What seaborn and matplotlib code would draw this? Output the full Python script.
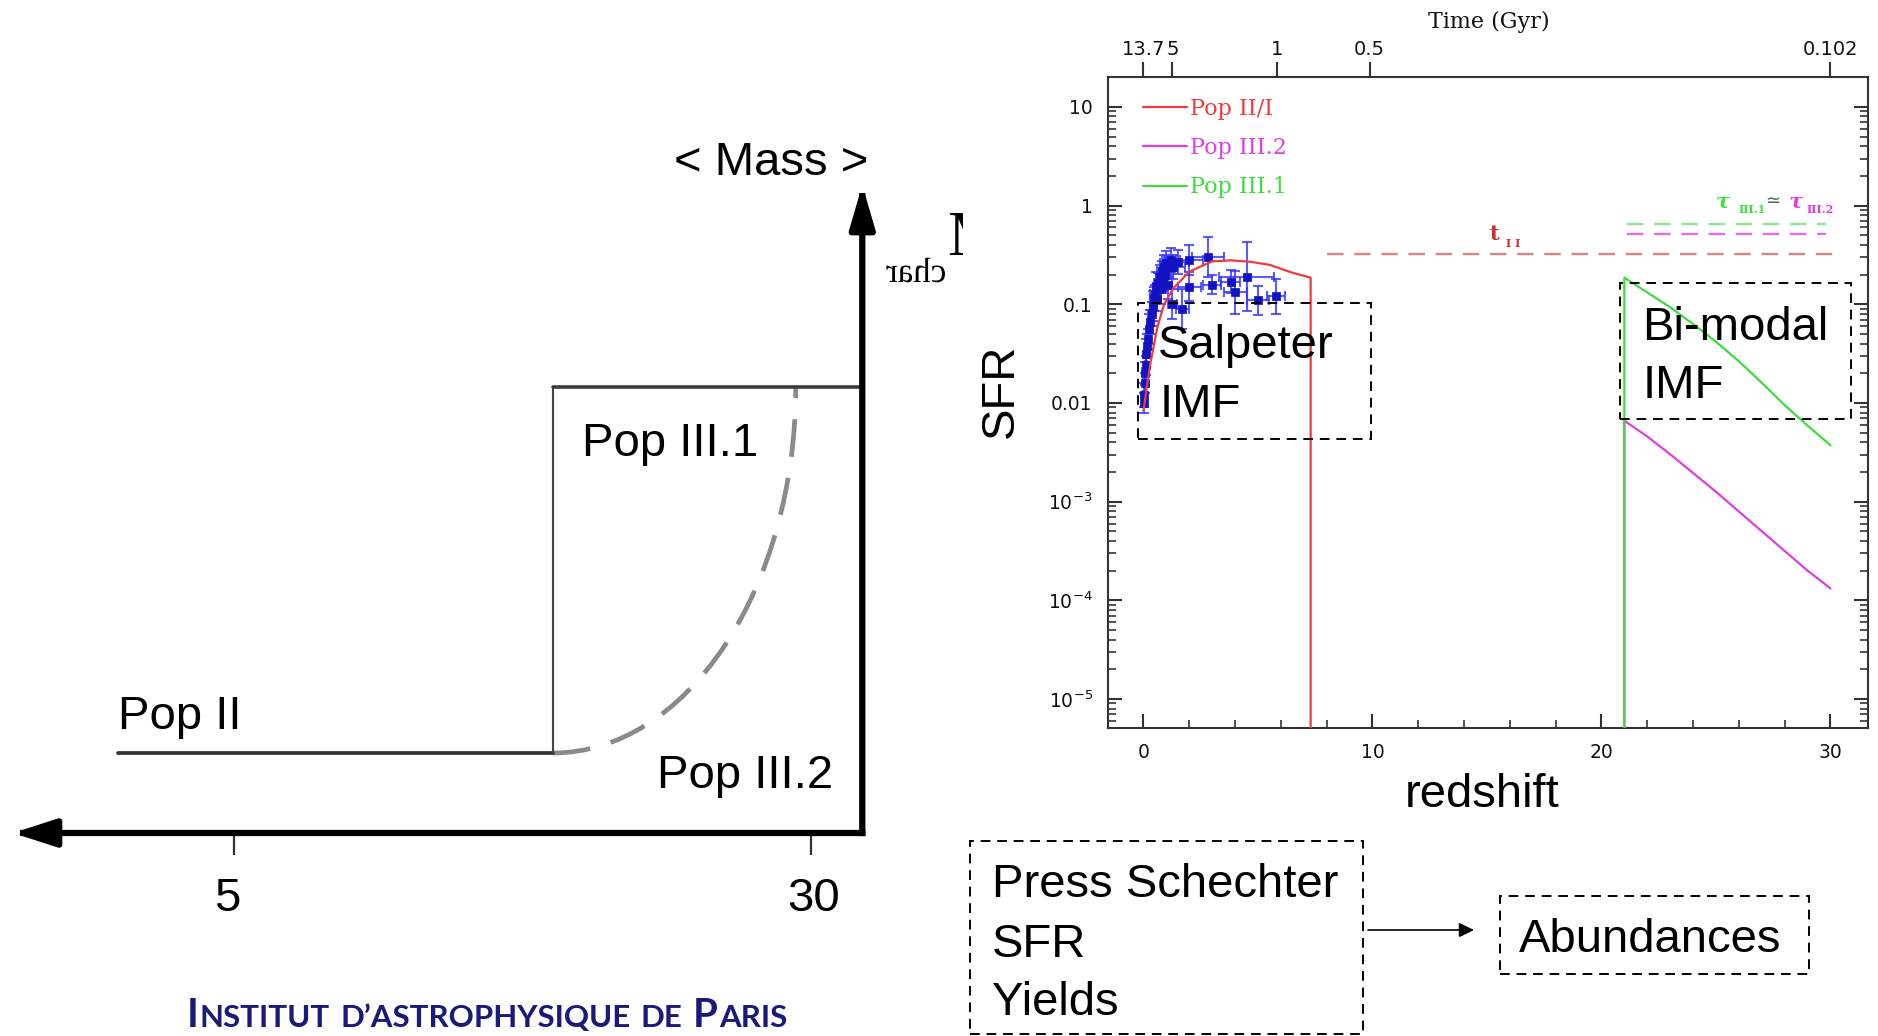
import numpy as np
import matplotlib
matplotlib.use("Agg")
import matplotlib.pyplot as plt
import seaborn as sns
from matplotlib.patches import Rectangle, Arc, FancyArrowPatch, PathPatch
from matplotlib.lines import Line2D
from matplotlib.textpath import TextPath
from matplotlib.font_manager import FontProperties
from matplotlib.transforms import Affine2D
from matplotlib.ticker import FixedLocator, LogLocator, NullFormatter, MultipleLocator, NullLocator

# ---------------- data: cosmic star formation rate ----------------
# Pop II/I model (redshift, SFR); the final point marks the cut-off
pop2_z = [0.0, 0.15, 0.3, 0.6, 0.9, 1.3, 2.0, 3.0, 3.8, 4.7, 5.5, 6.5, 7.3, 7.3]
pop2_sfr = [0.0083, 0.0148, 0.0251, 0.0575, 0.100, 0.145, 0.214, 0.272, 0.279,
            0.269, 0.251, 0.209, 0.186, 1e-7]

# Pop III.1 and Pop III.2 models (switched on at z ~ 21)
pop31_z = [21.0, 21.0, 22.0, 23.0, 24.0, 25.0, 26.0, 27.0, 28.0, 29.0, 30.0]
pop31_sfr = [1e-7, 0.186, 0.132, 0.0933, 0.0631, 0.0417, 0.0265, 0.0160, 0.00950,
             0.00590, 0.00372]
pop32_z = [21.0, 21.0, 22.0, 23.0, 24.0, 25.0, 26.0, 27.0, 28.0, 29.0, 30.0]
pop32_sfr = [1e-7, 0.00661, 0.00457, 0.00302, 0.00195, 0.00126, 0.000794, 0.000501,
             0.000316, 0.000200, 0.000132]

# characteristic timescales drawn as dashed levels
t2_z = [8.0, 30.1]
t2_level = 0.32
tau31_z = [21.1, 29.8]
tau31_level = 0.65
tau32_z = [21.1, 29.8]
tau32_level = 0.51

# observed SFR compilation: redshift, log10 SFR, half-widths
obs_z = [0.01, 0.03, 0.05, 0.07, 0.10, 0.12, 0.15, 0.20, 0.25, 0.30, 0.35, 0.40,
         0.45, 0.50, 0.55, 0.60, 0.65, 0.70, 0.75, 0.80, 0.85, 0.90, 0.95, 1.00,
         1.05, 1.10, 1.20, 1.25, 1.30, 1.50, 1.70, 2.00, 2.00, 2.80, 3.00, 3.80,
         4.00, 4.50, 5.00, 5.80]
obs_logsfr = [-2.00, -1.92, -1.80, -1.70, -1.62, -1.50, -1.42, -1.35, -1.25, -1.18,
              -1.10, -1.02, -0.95, -0.90, -0.82, -0.95, -0.78, -0.72, -0.85, -0.66,
              -0.75, -0.62, -0.70, -0.58, -0.80, -0.62, -0.55, -1.00, -0.62, -0.57,
              -1.05, -0.55, -0.82, -0.52, -0.80, -0.77, -0.88, -0.72, -0.96, -0.92]
obs_zerr = [0.02, 0.03, 0.05, 0.05, 0.05, 0.08, 0.10, 0.10, 0.10, 0.10, 0.15, 0.10,
            0.15, 0.20, 0.15, 0.10, 0.20, 0.15, 0.25, 0.20, 0.15, 0.20, 0.25, 0.30,
            0.20, 0.30, 0.40, 0.20, 0.50, 0.50, 0.30, 0.60, 0.50, 0.70, 0.40, 0.40,
            0.50, 1.20, 0.50, 0.40]
obs_logerr = [0.10, 0.12, 0.10, 0.12, 0.10, 0.15, 0.12, 0.10, 0.15, 0.12, 0.12, 0.15,
              0.12, 0.10, 0.15, 0.12, 0.10, 0.12, 0.15, 0.10, 0.12, 0.12, 0.10, 0.12,
              0.15, 0.10, 0.12, 0.15, 0.12, 0.12, 0.20, 0.15, 0.15, 0.20, 0.10, 0.12,
              0.22, 0.35, 0.15, 0.18]

# axis ticks
sfr_ticks = [1e-5, 1e-4, 1e-3, 1e-2, 1e-1, 1, 10]
sfr_tick_labels = [r"10$^{-5}$", r"10$^{-4}$", r"10$^{-3}$", "0.01", "0.1", "1", "10"]
z_ticks = [0, 10, 20, 30]
time_tick_z = [0.0, 1.26, 5.83, 9.88, 30.0]
time_tick_labels = ["13.7", "5", "1", "0.5", "0.102"]

# ---------------- data: schematic characteristic mass vs redshift ----------------
diag_z_ticks = [5, 30]
popII_z = [0.0, 18.8]
popIII_z = [18.8, 32.2]
mchar_popII = 1.0
mchar_popIII1 = 5.575
axis_z_left = -4.57
axis_z_right = 32.2
axis_mass_top = 8.1

# ---------------- figure ----------------
W, H, DPI = 1878, 1036, 100


def fx(px):
    return px / W


def fy(py):
    return 1 - py / H


sns.set_style("white")
plt.rcParams["font.family"] = ["DejaVu Sans"]
plt.rcParams["mathtext.fontset"] = "dejavusans"
plt.rcParams["text.color"] = "black"

fig = plt.figure(figsize=(W / DPI, H / DPI), dpi=DPI)
fig.patch.set_facecolor("white")

RED = "#ee3b3b"
MAG = "#e03ee0"
GRN = "#3edc3e"
SANS = "Liberation Sans"
SERIF = "DejaVu Serif"
BIG = 34

# ================= SFR panel =================
ax = fig.add_axes([fx(1108), fy(728), fx(1868) - fx(1108), fy(77) - fy(728)])
ax.set_facecolor("white")
ax.set_yscale("log")
ax.set_xlim(-1.55, 31.64)
ax.set_ylim(5.08e-6, 20.1)

obs_sfr = 10.0 ** np.array(obs_logsfr)
err_lo = obs_sfr - 10.0 ** (np.array(obs_logsfr) - np.array(obs_logerr))
err_hi = 10.0 ** (np.array(obs_logsfr) + np.array(obs_logerr)) - obs_sfr
ax.errorbar(obs_z, obs_sfr, xerr=obs_zerr, yerr=[err_lo, err_hi], fmt="none",
            ecolor="#3535ff", alpha=0.8, elinewidth=1.5, capsize=3.5,
            capthick=1.5, zorder=3)
sns.scatterplot(x=obs_z, y=obs_sfr, marker="s", s=26, color="#1212c0",
                edgecolor="#1212c0", linewidth=0.5, ax=ax, zorder=4)

sns.lineplot(x=pop32_z, y=pop32_sfr, estimator=None, sort=False, color=MAG,
             lw=1.6, ax=ax, zorder=5)
sns.lineplot(x=pop31_z, y=pop31_sfr, estimator=None, sort=False, color=GRN,
             lw=1.6, ax=ax, zorder=6)
sns.lineplot(x=pop2_z, y=pop2_sfr, estimator=None, sort=False, color=RED,
             lw=1.6, ax=ax, zorder=6)

dash = (0, (7, 4.5))
sns.lineplot(x=t2_z, y=[t2_level] * 2, estimator=None, color="#d98585",
             lw=1.7, linestyle=dash, ax=ax)
sns.lineplot(x=tau31_z, y=[tau31_level] * 2, estimator=None, color="#90e490",
             lw=1.7, linestyle=dash, ax=ax)
sns.lineplot(x=tau32_z, y=[tau32_level] * 2, estimator=None, color="#e070e0",
             lw=1.7, linestyle=dash, ax=ax)

ax.yaxis.set_major_locator(FixedLocator(sfr_ticks))
ax.set_yticklabels(sfr_tick_labels)
ax.yaxis.set_minor_locator(LogLocator(base=10, subs=np.arange(2, 10), numticks=30))
ax.yaxis.set_minor_formatter(NullFormatter())
ax.xaxis.set_major_locator(FixedLocator(z_ticks))
ax.set_xticklabels([str(v) for v in z_ticks])
ax.xaxis.set_minor_locator(MultipleLocator(2))
ax.tick_params(which="major", direction="in", length=10, width=1.5, color="#333333",
               left=True, right=True, bottom=True, top=False, labelsize=13.5,
               labelcolor="#111111", pad=11)
ax.tick_params(which="minor", direction="in", length=5.5, width=1.2, color="#333333",
               left=True, right=True, bottom=True, top=False)
for sp in ax.spines.values():
    sp.set_color("#333333")
    sp.set_linewidth(1.5)
ax.set_xlabel("")
ax.set_ylabel("")

ax_t = ax.twiny()
ax_t.set_xlim(ax.get_xlim())
ax_t.xaxis.set_major_locator(FixedLocator(time_tick_z))
ax_t.set_xticklabels(time_tick_labels)
ax_t.xaxis.set_minor_locator(NullLocator())
ax_t.tick_params(axis="x", which="major", direction="out", length=11, width=1.5,
                 color="#333333", labelsize=14, labelcolor="#111111", pad=2)
for sp in ax_t.spines.values():
    sp.set_visible(False)

handles = [Line2D([], [], color=RED, lw=1.6), Line2D([], [], color=MAG, lw=1.6),
           Line2D([], [], color=GRN, lw=1.6)]
ax.legend(handles, ["Pop II/I", "Pop III.2", "Pop III.1"], loc="upper left",
          bbox_to_anchor=(0.046, 0.968), frameon=False, borderpad=0,
          borderaxespad=0, handlelength=2.0, handletextpad=0.1,
          labelspacing=0.78, labelcolor="linecolor",
          prop=FontProperties(family=SERIF, size=16))

fig.text(fx(1489), fy(22), "Time (Gyr)", family=SERIF, fontsize=16,
         ha="center", va="center", color="#111111")
fig.text(fx(1001), fy(391), "SFR", family=SANS, fontsize=BIG, rotation=90,
         ha="center", va="center")
fig.text(fx(1482), fy(807), "redshift", family=SANS, fontsize=BIG,
         ha="center", va="baseline")

# timescale labels
fig.text(fx(1489), fy(240), "t", family=SERIF, fontsize=15, color="#c43232",
         fontweight="bold", va="baseline")
fig.text(fx(1506), fy(247), "I I", family=SERIF, fontsize=8, color="#c43232",
         fontweight="bold", va="baseline")
fig.text(fx(1716), fy(207), "τ", family=SERIF, fontsize=15, color=GRN,
         fontweight="bold", fontstyle="italic", va="baseline")
fig.text(fx(1739), fy(213), "III.1", family=SERIF, fontsize=8, color=GRN,
         fontweight="bold", va="baseline")
fig.text(fx(1765), fy(206), "≃", family="DejaVu Sans", fontsize=13,
         color="#556655", va="baseline")
fig.text(fx(1789), fy(207), "τ", family=SERIF, fontsize=15, color=MAG,
         fontweight="bold", fontstyle="italic", va="baseline")
fig.text(fx(1807), fy(213), "III.2", family=SERIF, fontsize=8, color=MAG,
         fontweight="bold", va="baseline")


def dashed_box(x0, y0, x1, y1):
    fig.add_artist(Rectangle((fx(x0), fy(y1)), fx(x1) - fx(x0), fy(y0) - fy(y1),
                             transform=fig.transFigure, fill=False, ec="black",
                             lw=1.4, ls=(0, (5, 3.5)), zorder=10))


def big_text(x, y, s, **kw):
    fig.text(fx(x), fy(y), s, family=SANS, fontsize=BIG, color="black",
             va="baseline", zorder=11, **kw)


dashed_box(1138, 303, 1371, 439)
big_text(1158, 358, "Salpeter")
big_text(1160, 417, "IMF")
dashed_box(1620, 283, 1851, 419)
big_text(1642, 340, "Bi-modal")
big_text(1643, 398, "IMF")

# flow chart below the SFR panel
dashed_box(970, 841, 1363, 1034)
for txt, base in [("Press Schechter", 897), ("SFR", 957), ("Yields", 1015)]:
    big_text(992, base, txt)
dashed_box(1500, 896, 1809, 974)
big_text(1519, 952, "Abundances")
fig.add_artist(FancyArrowPatch((fx(1368), fy(930)), (fx(1474), fy(930)),
                               transform=fig.transFigure,
                               arrowstyle="-|>,head_length=0.45,head_width=0.22",
                               mutation_scale=20, lw=1.2, color="black",
                               shrinkA=0, shrinkB=0))

# ================= schematic panel =================
ax_d = fig.add_axes([0, 0, fx(966), 1])
ax_d.set_xlim(-5.13, 36.69)
ax_d.set_ylim(-2.5375, 10.4125)
ax_d.axis("off")

sns.lineplot(x=popII_z, y=[mchar_popII] * 2, estimator=None, color="#333333",
             lw=2.7, ax=ax_d)
sns.lineplot(x=[popIII_z[0]] * 2, y=[mchar_popII, mchar_popIII1], estimator=None,
             color="#444444", lw=1.5, ax=ax_d)
sns.lineplot(x=popIII_z, y=[mchar_popIII1] * 2, estimator=None, color="#3c3c3c",
             lw=2.6, ax=ax_d)
ax_d.add_patch(Arc((popIII_z[0], mchar_popIII1), 2 * 10.52,
                   2 * (mchar_popIII1 - mchar_popII), theta1=270, theta2=360,
                   color="#8a8a8a", lw=3.4, ls=(0, (8, 4.5))))
ax_d.vlines(diag_z_ticks, -0.275, 0, color="#333333", lw=1.6)

ax_d.annotate("", xy=(axis_z_right, axis_mass_top), xytext=(axis_z_right, 0),
              arrowprops=dict(arrowstyle="-|>,head_length=1.3,head_width=0.38",
                              mutation_scale=20, lw=4.5, color="black",
                              shrinkA=0, shrinkB=0, capstyle="projecting"))
ax_d.annotate("", xy=(axis_z_left, 0), xytext=(axis_z_right, 0),
              arrowprops=dict(arrowstyle="-|>,head_length=1.3,head_width=0.42",
                              mutation_scale=20, lw=4.5, color="black",
                              shrinkA=0, shrinkB=0, capstyle="projecting"))

big_text(771, 175, "< Mass >", ha="center")
big_text(582, 456, "Pop III.1")
big_text(118, 729, "Pop II")
big_text(657, 788, "Pop III.2")
for zt, xp in zip(diag_z_ticks, [227, 814]):
    big_text(xp, 911, str(zt), ha="center")

# M_char label (clipped big M and mirrored subscript)
m_txt = fig.text(fx(947), fy(255), "M", family="Liberation Serif", fontsize=46,
                 va="baseline", color="black")
clip = Rectangle((0, 0), fx(963), 1, transform=fig.transFigure)
m_txt.set_clip_path(clip)
tp = TextPath((0, 0), "char", size=35, prop=FontProperties(family="Liberation Serif"))
ext = tp.get_extents()
mirror = Affine2D().scale(-1, 1).translate(945 + ext.x0, H - 282).scale(1 / DPI)
fig.add_artist(PathPatch(tp, transform=mirror + fig.dpi_scale_trans, color="black", lw=0))

# institute name in small capitals
NAVY = "#1a1a7a"
renderer = fig.canvas.get_renderer()
pieces = [("I", 29, 0), ("NSTITUT", 22.5, 9), ("D’ASTROPHYSIQUE", 22.5, 9),
          ("DE", 22.5, 9), ("P", 29, 1), ("ARIS", 22.5, 0)]
x_cur = 187
for s, size, gap in pieces:
    t = fig.text(fx(x_cur), fy(1027), s, family="Lato", fontsize=size, color=NAVY,
                 fontweight="bold", va="baseline", ha="left")
    x_cur += t.get_window_extent(renderer).width + gap + 1

fig.savefig("out.png", dpi=DPI, facecolor="white")
